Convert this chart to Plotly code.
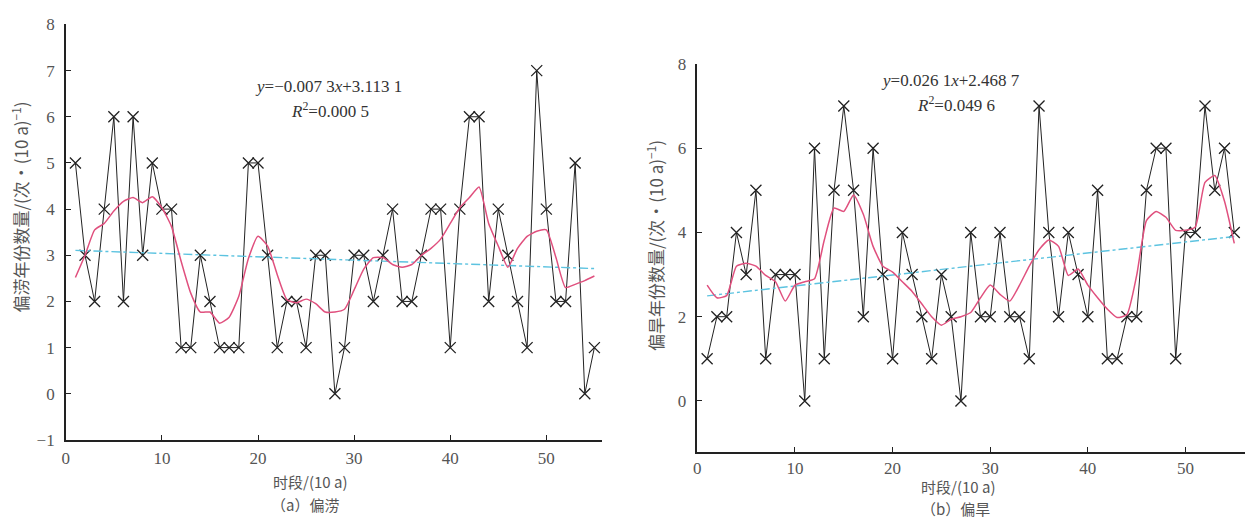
import plotly.graph_objects as go

# ---------------- data ----------------
periods = list(range(1, 56))

flood_counts = [5, 3, 2, 4, 6, 2, 6, 3, 5, 4, 4, 1, 1, 3, 2, 1, 1, 1, 5, 5,
                3, 1, 2, 2, 1, 3, 3, 0, 1, 3, 3, 2, 3, 4, 2, 2, 3, 4, 4, 1,
                4, 6, 6, 2, 4, 3, 2, 1, 7, 4, 2, 2, 5, 0, 1]
flood_smooth = [2.52, 3.0, 3.55, 3.69, 3.96, 4.17, 4.25, 4.14, 4.27, 4.03,
                3.62, 2.87, 2.18, 1.77, 1.77, 1.53, 1.66, 2.11, 2.93, 3.41,
                3.2, 2.58, 2.04, 1.97, 2.05, 1.95, 1.77, 1.77, 1.83, 2.25,
                2.7, 2.95, 2.95, 2.8, 2.74, 2.8, 3.0, 3.15, 3.35, 3.69,
                4.03, 4.25, 4.48, 3.69, 3.2, 2.74, 3.15, 3.41, 3.52, 3.55,
                2.95, 2.3, 2.37, 2.45, 2.55]
flood_trend_x = [1, 55]
flood_trend_y = [3.106, 2.712]

drought_counts = [1, 2, 2, 4, 3, 5, 1, 3, 3, 3, 0, 6, 1, 5, 7, 5, 2, 6, 3, 1,
                  4, 3, 2, 1, 3, 2, 0, 4, 2, 2, 4, 2, 2, 1, 7, 4, 2, 4, 3, 2,
                  5, 1, 1, 2, 2, 5, 6, 6, 1, 4, 4, 7, 5, 6, 4]
drought_smooth = [2.75, 2.45, 2.5, 3.2, 3.27, 3.2, 2.98, 2.83, 2.37, 2.75,
                  2.83, 2.9, 3.82, 4.58, 4.5, 4.89, 4.43, 3.67, 3.2, 3.06,
                  2.83, 2.6, 2.3, 2.0, 1.8, 1.94, 2.0, 2.1, 2.45, 2.75,
                  2.53, 2.37, 2.75, 3.2, 3.59, 3.82, 3.67, 2.98, 3.13, 2.75,
                  2.45, 2.18, 1.98, 2.05, 2.98, 4.28, 4.5, 4.36, 4.05, 4.05,
                  4.13, 5.19, 5.35, 4.74, 3.74]
drought_trend_x = [1, 55]
drought_trend_y = [2.495, 3.904]

x_ticks = [0, 10, 20, 30, 40, 50]
left_y_ticks = [-1, 0, 1, 2, 3, 4, 5, 6, 7, 8]
right_y_ticks = [0, 2, 4, 6, 8]

# ---------------- styles ----------------
SERIF = "Liberation Serif, Times New Roman, serif"
CJK = "Noto Sans CJK SC, Liberation Serif, serif"
BLACK = "#222222"
RED = "#e0507e"
CYAN = "#5cc3e0"
TICKC = "#555555"

fig = go.Figure()

def add_panel(xa, ya, counts, smooth, tx, ty):
    fig.add_trace(go.Scatter(
        x=periods, y=counts, mode="lines+markers", xaxis=xa, yaxis=ya,
        line=dict(color=BLACK, width=1),
        marker=dict(symbol="x-thin-open", size=11, color=BLACK,
                    line=dict(color=BLACK, width=1.3)),
        showlegend=False, hoverinfo="x+y"))
    fig.add_trace(go.Scatter(
        x=tx, y=ty, mode="lines", xaxis=xa, yaxis=ya,
        line=dict(color=CYAN, width=1.4, dash="dashdot"),
        showlegend=False))
    fig.add_trace(go.Scatter(
        x=periods, y=smooth, mode="lines", xaxis=xa, yaxis=ya,
        line=dict(color=RED, width=1.5, shape="spline", smoothing=0.5),
        showlegend=False))

add_panel("x", "y", flood_counts, flood_smooth, flood_trend_x, flood_trend_y)
add_panel("x2", "y2", drought_counts, drought_smooth, drought_trend_x, drought_trend_y)

axis_common = dict(showline=True, linecolor=BLACK, linewidth=1.5,
                   showgrid=False, zeroline=False, ticks="inside",
                   ticklen=5, tickcolor=BLACK,
                   tickfont=dict(family=SERIF, size=17, color=TICKC))

fig.update_layout(
    width=1250, height=529,
    margin=dict(l=0, r=0, t=0, b=0),
    paper_bgcolor="white", plot_bgcolor="white",
    xaxis=dict(domain=[62/1250, 600/1250], range=[0, 55.8],
               tickvals=x_ticks, anchor="y", ticklabelstandoff=2, **axis_common),
    yaxis=dict(domain=[(529-447)/529, (529-16)/529], range=[-1, 8],
               tickvals=left_y_ticks, anchor="x", ticklabelstandoff=6, **axis_common),
    xaxis2=dict(domain=[695.6/1250, 1245/1250], range=[0, 56.1],
                tickvals=x_ticks, anchor="y2", ticklabelstandoff=0, **axis_common),
    yaxis2=dict(domain=[(529-459)/529, (529-57)/529], range=[-1.2, 8],
                tickvals=right_y_ticks, anchor="x2", ticklabelstandoff=6, **axis_common),
)

ann_font = dict(family=SERIF, size=17, color="#333333")
cjk_font = dict(family=CJK, size=15, color="#555555")
cjk_font_v = dict(family=CJK, size=17, color="#555555")
annotations = [
    dict(x=326, y=80, text="<i>y</i>=−0.007 3<i>x</i>+3.113 1", font=ann_font),
    dict(x=327, y=105, text="<i>R</i><sup>2</sup>=0.000 5", font=ann_font),
    dict(x=950, y=74, text="<i>y</i>=0.026 1<i>x</i>+2.468 7", font=ann_font),
    dict(x=955, y=99, text="<i>R</i><sup>2</sup>=0.049 6", font=ann_font),
    dict(x=307, y=490, text="时段/(10 a)", font=cjk_font),
    dict(x=302, y=514, text="（a）偏涝", font=cjk_font),
    dict(x=957, y=495, text="时段/(10 a)", font=cjk_font),
    dict(x=955, y=518, text="（b）偏旱", font=cjk_font),
    dict(x=16, y=205, text="偏涝年份数量/(次·(10 a)<sup>−1</sup>)", font=cjk_font_v, textangle=-90),
    dict(x=653, y=245, text="偏旱年份数量/(次·(10 a)<sup>−1</sup>)", font=cjk_font_v, textangle=-90),
]
for a in annotations:
    fig.add_annotation(
        x=a["x"] / 1250, y=1 - a["y"] / 529, xref="paper", yref="paper",
        text=a["text"], font=a["font"], showarrow=False,
        xanchor="center", yanchor="middle", textangle=a.get("textangle", 0))

fig.write_html("out.html")
